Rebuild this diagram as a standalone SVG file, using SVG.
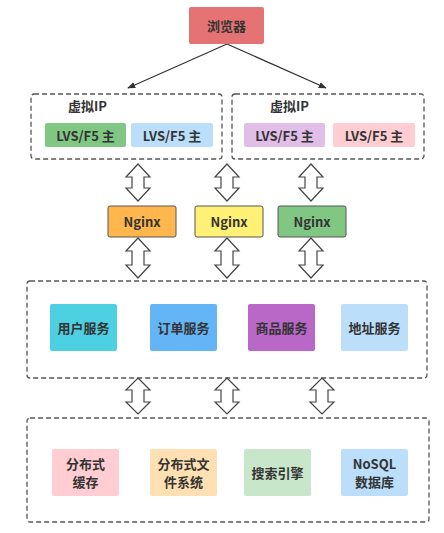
<svg xmlns="http://www.w3.org/2000/svg" width="444" height="533" viewBox="0 0 444 533">
<defs>
<style>
.grp{fill:none;stroke:#555;stroke-width:1.3;stroke-dasharray:5 3;}
.t{font-family:"Noto Sans CJK SC","Noto Sans",sans-serif;font-weight:bold;font-size:13px;fill:#333;text-anchor:middle;dominant-baseline:central;}
.lbl{font-family:"Noto Sans CJK SC","Noto Sans",sans-serif;font-weight:bold;font-size:13px;fill:#333;dominant-baseline:central;}
.dbl{fill:#fff;stroke:#444;stroke-width:1.2;stroke-linejoin:miter;}
.ln{stroke:#333;stroke-width:1.3;fill:none;}
</style>
<marker id="ah" viewBox="0 0 10 10" refX="9" refY="5" markerWidth="8" markerHeight="8" orient="auto" markerUnits="userSpaceOnUse">
<path d="M0,1 L10,5 L0,9 Z" fill="#333"/>
</marker>
</defs>
<rect width="444" height="533" fill="#fff"/>

<g id="groups">
<rect id="vip-left" class="grp" x="31" y="94" width="191" height="65" rx="3"/>
<rect id="vip-right" class="grp" x="232" y="94" width="192" height="65" rx="3"/>
<rect id="services-group" class="grp" x="27" y="281" width="400" height="97" rx="3"/>
<rect id="storage-group" class="grp" x="27" y="418" width="402" height="104" rx="3"/>
</g>

<g id="connectors">
<path class="ln" d="M227,44 L128,88" marker-end="url(#ah)"/>
<path class="ln" d="M227,44 L326,88" marker-end="url(#ah)"/>
<path class="dbl" d="M138,164 L150,177 L144,177 L144,188 L150,188 L138,201 L126,188 L132,188 L132,177 L126,177 Z"/>
<path class="dbl" d="M227,164 L239,177 L233,177 L233,188 L239,188 L227,201 L215,188 L221,188 L221,177 L215,177 Z"/>
<path class="dbl" d="M311,164 L323,177 L317,177 L317,188 L323,188 L311,201 L299,188 L305,188 L305,177 L299,177 Z"/>
<path class="dbl" d="M138,238 L150,251 L144,251 L144,265 L150,265 L138,278 L126,265 L132,265 L132,251 L126,251 Z"/>
<path class="dbl" d="M227,238 L239,251 L233,251 L233,265 L239,265 L227,278 L215,265 L221,265 L221,251 L215,251 Z"/>
<path class="dbl" d="M311,238 L323,251 L317,251 L317,265 L323,265 L311,278 L299,265 L305,265 L305,251 L299,251 Z"/>
<path class="dbl" d="M138,378 L150,390 L144,390 L144,402 L150,402 L138,414 L126,402 L132,402 L132,390 L126,390 Z"/>
<path class="dbl" d="M227,378 L239,390 L233,390 L233,402 L239,402 L227,414 L215,402 L221,402 L221,390 L215,390 Z"/>
<path class="dbl" d="M322,378 L334,390 L328,390 L328,402 L334,402 L322,414 L310,402 L316,402 L316,390 L310,390 Z"/>
</g>

<g id="browser">
<rect x="189" y="7" width="75" height="37" rx="2" fill="#e57373"/>
<text class="t" x="226.5" y="25.5">浏览器</text>
</g>

<g id="vip-left-label"><text class="lbl" x="68" y="105">虚拟IP</text></g>
<g id="vip-right-label"><text class="lbl" x="270" y="105">虚拟IP</text></g>

<g id="lvs1"><rect x="45" y="123" width="81" height="24" rx="2" fill="#81c784"/><text class="t" x="85.5" y="135">LVS/F5 主</text></g>
<g id="lvs2"><rect x="131" y="123" width="82" height="24" rx="2" fill="#bbdefb"/><text class="t" x="172" y="135">LVS/F5 主</text></g>
<g id="lvs3"><rect x="244" y="123" width="81" height="24" rx="2" fill="#e1bee7"/><text class="t" x="284.5" y="135">LVS/F5 主</text></g>
<g id="lvs4"><rect x="333" y="123" width="82" height="24" rx="2" fill="#ffcdd2"/><text class="t" x="374" y="135">LVS/F5 主</text></g>

<g id="nginx1"><rect x="108" y="206" width="68" height="31" rx="2" fill="#ffb74d" stroke="#555" stroke-width="1"/><text class="t" x="142" y="221.5">Nginx</text></g>
<g id="nginx2"><rect x="195" y="206" width="68" height="31" rx="2" fill="#fff176" stroke="#555" stroke-width="1"/><text class="t" x="229" y="221.5">Nginx</text></g>
<g id="nginx3"><rect x="278" y="206" width="68" height="31" rx="2" fill="#81c784" stroke="#555" stroke-width="1"/><text class="t" x="312" y="221.5">Nginx</text></g>

<g id="svc-user"><rect x="50" y="304" width="67" height="47" rx="2" fill="#4dd0e1"/><text class="t" x="83.5" y="327.5">用户服务</text></g>
<g id="svc-order"><rect x="150" y="304" width="67" height="47" rx="2" fill="#64b5f6"/><text class="t" x="183.5" y="327.5">订单服务</text></g>
<g id="svc-goods"><rect x="248" y="304" width="67" height="47" rx="2" fill="#ba68c8"/><text class="t" x="281.5" y="327.5">商品服务</text></g>
<g id="svc-addr"><rect x="341" y="304" width="67" height="47" rx="2" fill="#bbdefb"/><text class="t" x="374.5" y="327.5">地址服务</text></g>

<g id="st-cache"><rect x="52" y="449" width="67" height="47" rx="2" fill="#ffcdd2"/><text class="t" x="85.5" y="463.5">分布式</text><text class="t" x="85.5" y="481.5">缓存</text></g>
<g id="st-fs"><rect x="150" y="449" width="67" height="47" rx="2" fill="#ffe0b2"/><text class="t" x="183.5" y="463.5">分布式文</text><text class="t" x="183.5" y="481.5">件系统</text></g>
<g id="st-search"><rect x="244" y="449" width="67" height="47" rx="2" fill="#c8e6c9"/><text class="t" x="277.5" y="472.5">搜索引擎</text></g>
<g id="st-nosql"><rect x="341" y="449" width="67" height="47" rx="2" fill="#bbdefb"/><text class="t" x="374.5" y="463.5">NoSQL</text><text class="t" x="374.5" y="481.5">数据库</text></g>
</svg>
